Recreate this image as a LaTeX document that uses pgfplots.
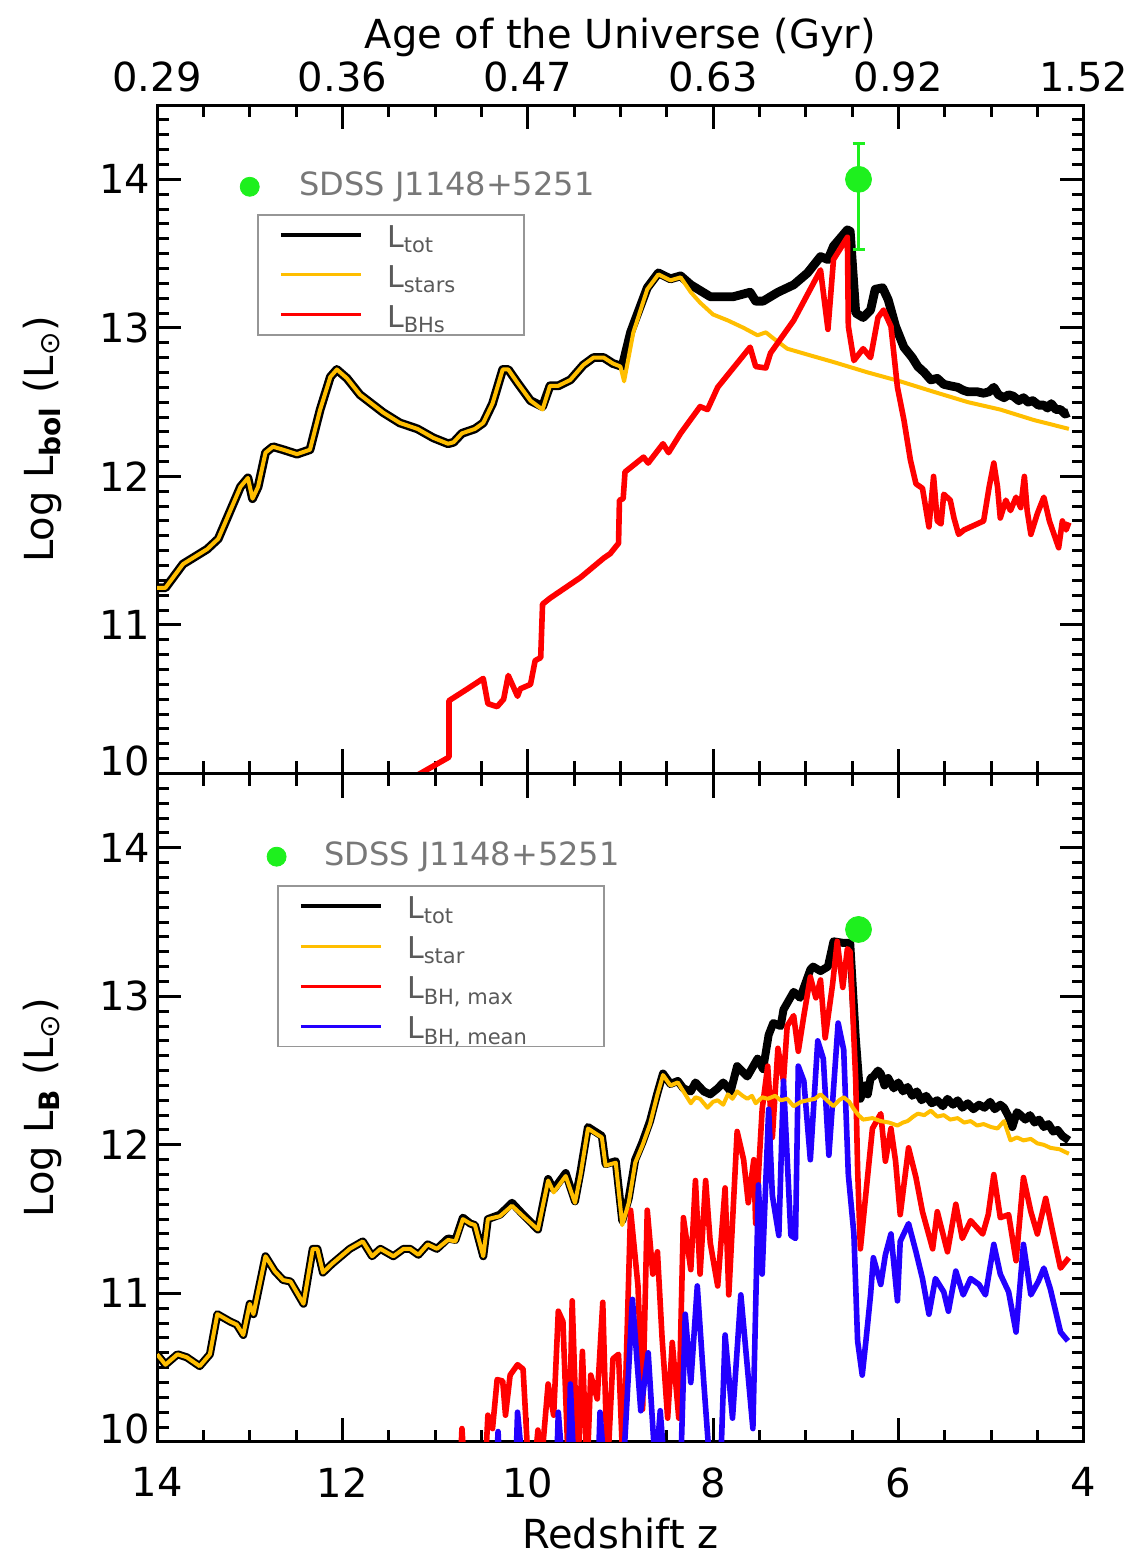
\documentclass[border=0pt]{standalone}
\usepackage{fontspec}
\setmainfont{DejaVu Sans}
\usepackage{pgfplots}
\pgfplotsset{compat=1.18}

\definecolor{myorange}{RGB}{255,190,0}
\definecolor{mygreen}{RGB}{30,240,30}
\definecolor{myblue}{RGB}{35,0,255}
\definecolor{legtext}{RGB}{90,90,90}
\definecolor{sdss}{RGB}{120,120,120}
\definecolor{legframe}{RGB}{150,150,150}

\newcommand\legstrut{\rule[-3pt]{0pt}{17pt}}

\pgfplotsset{
  myaxis/.style={
    scale only axis, width=463pt, height=334pt,
    x dir=reverse, xmin=4, xmax=14, ymin=10, ymax=14.5,
    xtick={4,6,...,14}, minor xtick={4,4.5,...,14},
    ytick={11,12,13,14}, minor ytick={10,10.1,...,14.5},
    extra y ticks={10}, extra y tick style={yticklabel style={yshift=6.5pt}},
    axis line style={line width=1.5pt},
    tick style={black, line width=1.5pt},
    major tick length=12pt, minor tick length=6pt,
    tick align=inside,
    /pgf/number format/assume math mode=true,
    tick label style={font=\fontsize{20}{24}\selectfont},
    label style={font=\fontsize{20}{24}\selectfont},
    ylabel style={at={(axis description cs:-0.1123,0.5)}, anchor=base},
    legend cell align=left,
    legend image code/.code={\draw[#1] (0pt,0pt) -- (40pt,0pt);},
  }
}

\begin{document}
\begin{tikzpicture}
% ---------------- top panel ----------------
\begin{axis}[myaxis, name=top,
  xticklabel pos=upper,
  xticklabels={1.52,0.92,0.63,0.47,0.36,0.29},
  xticklabel style={yshift=3pt},
  xlabel={Age of the Universe (Gyr)},
  xlabel style={at={(axis description cs:0.5,1.0853)}, anchor=base},
  ylabel={Log L\textsubscript{\textbf{bol}} (L\textsubscript{⊙})},
  legend style={at={(0.108,0.837)}, anchor=north west, draw=legframe, line width=0.8pt,
    inner xsep=10.5pt, inner ysep=0pt, column sep=12pt, row sep=0pt,
    nodes={inner sep=0pt, minimum height=20pt, text=legtext, font=\fontsize{15}{18}\selectfont}},
]
\addlegendimage{black, line width=2pt}
\addlegendentry{\makebox[58pt][l]{\legstrut L\textsubscript{tot}}}
\addlegendimage{myorange, line width=1.5pt}
\addlegendentry{\makebox[58pt][l]{\legstrut L\textsubscript{stars}}}
\addlegendimage{red, line width=1.5pt}
\addlegendentry{\makebox[58pt][l]{\legstrut L\textsubscript{BHs}}}

% L_tot
\addplot[black, line width=4.4pt, line join=round, forget plot] coordinates {
(14.00,11.25) (13.91,11.25) (13.72,11.41) (13.46,11.51) (13.34,11.58) (13.10,11.93) (13.02,11.99) (12.97,11.85) (12.91,11.93) (12.83,12.16) (12.75,12.20) (12.64,12.18) (12.49,12.15) (12.35,12.18) (12.24,12.45) (12.13,12.67) (12.06,12.72) (11.95,12.66) (11.81,12.55) (11.56,12.43) (11.38,12.36) (11.19,12.32) (11.02,12.26) (10.86,12.22) (10.80,12.23) (10.71,12.29) (10.57,12.32) (10.48,12.36) (10.38,12.49) (10.27,12.72) (10.21,12.72) (10.11,12.63) (9.97,12.51) (9.84,12.47) (9.76,12.61) (9.67,12.61) (9.54,12.65) (9.40,12.75) (9.29,12.80) (9.18,12.80) (9.08,12.76) (8.98,12.74) (8.89,12.97) (8.71,13.27) (8.59,13.37) (8.46,13.33) (8.35,13.35) (8.24,13.29) (8.03,13.21) (7.78,13.21) (7.60,13.24) (7.54,13.18) (7.46,13.18) (7.30,13.24) (7.13,13.29) (6.98,13.37) (6.84,13.48) (6.76,13.46) (6.70,13.55) (6.55,13.66) (6.52,13.65) (6.46,13.10) (6.38,13.07) (6.30,13.12) (6.25,13.26) (6.17,13.27) (6.11,13.19) (6.03,13.01) (5.94,12.87) (5.85,12.80) (5.79,12.74) (5.72,12.70) (5.65,12.65) (5.58,12.66) (5.51,12.62) (5.44,12.61) (5.36,12.60) (5.30,12.58) (5.25,12.57) (5.15,12.57) (5.08,12.56) (5.02,12.57) (4.97,12.60) (4.92,12.55) (4.86,12.53) (4.81,12.55) (4.76,12.54) (4.70,12.51) (4.65,12.53) (4.60,12.50) (4.55,12.51) (4.49,12.48) (4.43,12.48) (4.39,12.46) (4.35,12.49) (4.30,12.45) (4.25,12.45) (4.20,12.42) (4.16,12.43)
};
% L_stars
\addplot[myorange, line width=2pt, line join=round, forget plot] coordinates {
(14.00,11.25) (13.91,11.25) (13.72,11.41) (13.46,11.51) (13.34,11.58) (13.10,11.93) (13.02,11.99) (12.97,11.85) (12.91,11.93) (12.83,12.16) (12.75,12.20) (12.64,12.18) (12.49,12.15) (12.35,12.18) (12.24,12.45) (12.13,12.67) (12.06,12.72) (11.95,12.66) (11.81,12.55) (11.56,12.43) (11.38,12.36) (11.19,12.32) (11.02,12.26) (10.86,12.22) (10.80,12.23) (10.71,12.29) (10.57,12.32) (10.48,12.36) (10.38,12.49) (10.27,12.72) (10.21,12.72) (10.11,12.63) (9.97,12.51) (9.84,12.45) (9.76,12.61) (9.67,12.61) (9.54,12.65) (9.40,12.75) (9.29,12.80) (9.18,12.80) (9.08,12.76) (9.00,12.74) (8.96,12.64) (8.86,12.97) (8.71,13.26) (8.59,13.36) (8.46,13.32) (8.35,13.34) (8.24,13.24) (8.14,13.17) (8.00,13.09) (7.84,13.05) (7.67,13.00) (7.52,12.95) (7.43,12.97) (7.35,12.93) (7.20,12.86) (6.98,12.82) (6.70,12.77) (6.33,12.70) (5.98,12.64) (5.62,12.57) (5.25,12.50) (4.90,12.45) (4.54,12.38) (4.16,12.32)
};
% L_BHs
\addplot[red, line width=2.8pt, line join=round, forget plot] coordinates {
(11.30,9.95) (10.85,10.11) (10.85,10.49) (10.65,10.57) (10.48,10.64) (10.43,10.47) (10.33,10.45) (10.26,10.50) (10.21,10.66) (10.11,10.52) (10.08,10.57) (9.97,10.60) (9.92,10.76) (9.86,10.78) (9.84,11.14) (9.76,11.18) (9.43,11.32) (9.18,11.45) (9.11,11.48) (9.02,11.55) (9.01,11.84) (8.97,11.85) (8.95,12.03) (8.75,12.13) (8.70,12.09) (8.54,12.22) (8.48,12.16) (8.35,12.29) (8.14,12.47) (8.06,12.45) (7.95,12.60) (7.60,12.87) (7.54,12.74) (7.43,12.73) (7.38,12.83) (7.13,13.05) (6.84,13.39) (6.76,12.99) (6.70,13.46) (6.55,13.61) (6.54,13.01) (6.48,12.78) (6.38,12.86) (6.30,12.80) (6.22,13.07) (6.16,13.12) (6.08,13.01) (6.01,12.60) (5.94,12.38) (5.87,12.11) (5.81,11.95) (5.74,11.92) (5.67,11.66) (5.62,12.00) (5.58,11.70) (5.54,11.68) (5.51,11.88) (5.44,11.84) (5.40,11.72) (5.35,11.61) (5.29,11.64) (5.22,11.66) (5.15,11.68) (5.08,11.70) (5.02,11.93) (4.97,12.09) (4.93,11.93) (4.90,11.72) (4.84,11.84) (4.79,11.77) (4.73,11.86) (4.68,11.79) (4.64,12.00) (4.61,11.77) (4.57,11.61) (4.50,11.75) (4.43,11.86) (4.37,11.70) (4.32,11.61) (4.27,11.52) (4.23,11.70) (4.19,11.64) (4.16,11.69)
};
% SDSS legend marker and label
\addplot[only marks, mark=*, mark size=4.75pt, mark options={draw=mygreen, fill=mygreen}, forget plot] coordinates {(13.0,13.95)};
\node[anchor=west, text=sdss, font=\fontsize{16}{19}\selectfont] at (axis cs:12.54,13.95) {SDSS J1148+5251};
% data point
\addplot[only marks, mark=*, mark size=6.5pt, mark options={draw=mygreen, fill=mygreen}, forget plot,
  error bars/.cd, y dir=both, y explicit,
  error bar style={line width=1.5pt, mygreen},
  error mark options={rotate=90, mygreen, line width=1.5pt, mark size=3pt}]
  coordinates {(6.43,14.0) += (0,0.24) -= (0,0.47)};
\end{axis}

% ---------------- bottom panel ----------------
\begin{axis}[myaxis, name=bot, at={(top.south west)}, anchor=north west,
  xticklabel style={yshift=-9.3pt},
  xlabel={Redshift z},
  xlabel style={at={(axis description cs:0.5,-0.160)}, anchor=base},
  ylabel={Log L\textsubscript{\textbf{B}} (L\textsubscript{⊙})},
  legend style={at={(0.1296,0.8326)}, anchor=north west, draw=legframe, line width=0.8pt,
    inner xsep=10.5pt, inner ysep=0pt, column sep=12pt, row sep=0pt,
    nodes={inner sep=0pt, minimum height=20pt, text=legtext, font=\fontsize{15}{18}\selectfont}},
]
\addlegendimage{black, line width=2pt}
\addlegendentry{\makebox[88pt][l]{\legstrut L\textsubscript{tot}}}
\addlegendimage{myorange, line width=1.5pt}
\addlegendentry{\makebox[88pt][l]{\legstrut L\textsubscript{star}}}
\addlegendimage{red, line width=1.5pt}
\addlegendentry{\makebox[88pt][l]{\legstrut L\textsubscript{BH, max}}}
\addlegendimage{myblue, line width=1.5pt}
\addlegendentry{\makebox[88pt][l]{\legstrut L\textsubscript{BH, mean}}}

% L_tot
\addplot[black, line width=4pt, line join=round, forget plot] coordinates {
(14.00,10.59) (13.91,10.52) (13.78,10.59) (13.68,10.57) (13.54,10.51) (13.43,10.59) (13.35,10.86) (13.21,10.81) (13.14,10.79) (13.07,10.72) (13.00,10.93) (12.96,10.86) (12.83,11.25) (12.73,11.15) (12.64,11.09) (12.56,11.08) (12.42,10.93) (12.32,11.30) (12.27,11.30) (12.21,11.14) (12.11,11.20) (11.92,11.30) (11.78,11.35) (11.68,11.25) (11.59,11.30) (11.45,11.25) (11.34,11.30) (11.27,11.30) (11.18,11.26) (11.08,11.33) (10.98,11.30) (10.86,11.37) (10.78,11.36) (10.70,11.51) (10.62,11.47) (10.57,11.46) (10.48,11.25) (10.43,11.50) (10.30,11.53) (10.17,11.61) (10.05,11.53) (9.89,11.43) (9.78,11.77) (9.72,11.70) (9.59,11.81) (9.49,11.62) (9.43,11.82) (9.35,12.12) (9.20,12.06) (9.16,11.87) (9.05,11.89) (8.98,11.49) (8.91,11.64) (8.84,11.90) (8.76,12.02) (8.68,12.16) (8.60,12.35) (8.54,12.48) (8.46,12.41) (8.38,12.43) (8.32,12.38) (8.24,12.36) (8.19,12.42) (8.10,12.36) (8.03,12.34) (7.95,12.38) (7.89,12.42) (7.81,12.36) (7.74,12.53) (7.63,12.46) (7.52,12.58) (7.46,12.51) (7.40,12.74) (7.35,12.82) (7.27,12.80) (7.24,12.91) (7.13,13.03) (7.06,12.99) (6.95,13.18) (6.92,13.20) (6.84,13.17) (6.76,13.20) (6.70,13.37) (6.60,13.36) (6.52,13.36) (6.46,12.72) (6.41,12.31) (6.36,12.40) (6.33,12.34) (6.30,12.45) (6.27,12.46) (6.22,12.50) (6.19,12.48) (6.15,12.40) (6.11,12.45) (6.05,12.38) (6.00,12.42) (5.95,12.36) (5.90,12.39) (5.85,12.33) (5.80,12.36) (5.75,12.30) (5.70,12.33) (5.64,12.28) (5.58,12.30) (5.52,12.26) (5.47,12.31) (5.41,12.27) (5.36,12.30) (5.31,12.25) (5.25,12.28) (5.19,12.24) (5.13,12.27) (5.07,12.25) (5.01,12.29) (4.96,12.24) (4.90,12.27) (4.86,12.25) (4.81,12.19) (4.77,12.12) (4.72,12.22) (4.68,12.20) (4.63,12.17) (4.58,12.20) (4.53,12.15) (4.48,12.17) (4.43,12.12) (4.38,12.14) (4.33,12.09) (4.28,12.10) (4.23,12.06) (4.16,12.03)
};
% L_BH,max
\addplot[red, line width=2.8pt, line join=round, forget plot] coordinates {
(10.73,9.8) (10.71,10.09) (10.68,9.8) (10.46,9.8) (10.43,10.18) (10.38,10.09) (10.33,10.42) (10.27,10.41) (10.24,10.18) (10.19,10.45) (10.11,10.52) (10.05,10.49) (9.99,9.8) (9.93,9.8) (9.89,10.08) (9.86,9.8) (9.78,10.39) (9.72,10.18) (9.67,10.88) (9.62,10.81) (9.56,9.8) (9.52,10.95) (9.46,9.8) (9.41,10.61) (9.36,9.8) (9.32,10.45) (9.25,10.29) (9.19,10.94) (9.14,9.8) (9.08,10.56) (9.02,10.59) (8.97,9.8) (8.89,11.56) (8.81,11.05) (8.76,10.22) (8.71,11.56) (8.65,11.13) (8.60,11.28) (8.55,10.70) (8.49,10.16) (8.44,10.67) (8.37,10.16) (8.32,11.51) (8.24,11.16) (8.19,11.76) (8.14,11.13) (8.08,11.76) (8.03,11.34) (7.95,11.05) (7.87,11.71) (7.83,10.99) (7.74,12.09) (7.67,11.90) (7.62,11.61) (7.56,11.90) (7.54,11.47) (7.47,12.24) (7.41,12.53) (7.36,12.05) (7.30,12.65) (7.24,12.43) (7.20,12.80) (7.13,12.87) (7.08,12.63) (7.02,12.87) (6.95,13.13) (6.89,12.99) (6.84,13.11) (6.79,12.72) (6.71,13.08) (6.66,13.37) (6.60,13.06) (6.55,13.32) (6.52,13.30) (6.46,12.43) (6.44,11.84) (6.41,11.30) (6.33,11.80) (6.28,12.11) (6.19,12.21) (6.14,11.89) (6.08,12.11) (6.03,11.89) (5.98,11.53) (5.89,11.98) (5.81,11.78) (5.74,11.55) (5.63,11.30) (5.58,11.55) (5.47,11.28) (5.38,11.60) (5.31,11.37) (5.22,11.49) (5.09,11.40) (5.03,11.53) (4.97,11.80) (4.90,11.51) (4.81,11.53) (4.73,11.22) (4.65,11.78) (4.57,11.55) (4.50,11.40) (4.41,11.64) (4.33,11.40) (4.25,11.17) (4.16,11.24)
};
% L_BH,mean
\addplot[myblue, line width=2.8pt, line join=round, forget plot] coordinates {
(10.34,9.8) (10.32,10.07) (10.30,9.8) (10.13,9.8) (10.11,10.20) (10.05,9.8) (9.69,9.8) (9.67,10.20) (9.62,9.8) (9.56,9.8) (9.54,10.39) (9.50,9.8) (9.24,9.8) (9.22,10.20) (9.17,9.8) (8.97,9.8) (8.87,10.96) (8.78,10.21) (8.70,10.60) (8.62,9.8) (8.57,10.21) (8.52,9.8) (8.35,9.8) (8.30,10.86) (8.24,10.40) (8.17,11.05) (8.10,10.40) (8.03,9.8) (7.92,9.8) (7.87,10.72) (7.79,10.16) (7.70,10.99) (7.57,10.09) (7.51,11.73) (7.47,11.13) (7.40,12.24) (7.36,11.66) (7.29,11.39) (7.24,12.43) (7.16,11.39) (7.11,11.37) (7.08,12.53) (7.02,12.43) (6.95,11.90) (6.87,12.70) (6.81,12.58) (6.75,11.93) (6.65,12.82) (6.59,12.64) (6.54,11.80) (6.48,11.40) (6.44,10.68) (6.39,10.45) (6.35,10.68) (6.30,10.99) (6.27,11.24) (6.19,11.06) (6.14,11.26) (6.08,11.40) (6.01,10.95) (5.98,11.35) (5.89,11.47) (5.81,11.28) (5.74,11.10) (5.67,10.86) (5.60,11.10) (5.51,11.01) (5.46,10.88) (5.38,11.15) (5.30,10.99) (5.22,11.10) (5.13,11.06) (5.06,10.99) (4.97,11.33) (4.90,11.13) (4.81,11.01) (4.73,10.74) (4.65,11.33) (4.57,10.99) (4.49,11.08) (4.43,11.17) (4.36,11.03) (4.25,10.74) (4.17,10.68)
};
% L_star
\addplot[myorange, line width=2pt, line join=round, forget plot] coordinates {
(14.00,10.59) (13.91,10.52) (13.78,10.59) (13.68,10.57) (13.54,10.51) (13.43,10.59) (13.35,10.86) (13.21,10.81) (13.14,10.79) (13.07,10.72) (13.00,10.93) (12.96,10.86) (12.83,11.25) (12.73,11.15) (12.64,11.09) (12.56,11.08) (12.42,10.93) (12.32,11.30) (12.27,11.30) (12.21,11.14) (12.11,11.20) (11.92,11.30) (11.78,11.35) (11.68,11.25) (11.59,11.30) (11.45,11.25) (11.34,11.30) (11.27,11.30) (11.18,11.26) (11.08,11.33) (10.98,11.30) (10.86,11.36) (10.78,11.35) (10.70,11.50) (10.62,11.47) (10.57,11.46) (10.48,11.25) (10.43,11.50) (10.30,11.52) (10.17,11.59) (10.05,11.52) (9.89,11.43) (9.78,11.76) (9.72,11.68) (9.59,11.79) (9.49,11.61) (9.43,11.80) (9.35,12.11) (9.20,12.05) (9.16,11.86) (9.05,11.88) (8.98,11.46) (8.91,11.61) (8.84,11.88) (8.76,12.00) (8.68,12.14) (8.60,12.34) (8.54,12.47) (8.46,12.40) (8.38,12.42) (8.32,12.36) (8.24,12.28) (8.19,12.32) (8.14,12.31) (8.06,12.25) (8.00,12.29) (7.95,12.30) (7.89,12.27) (7.84,12.34) (7.79,12.31) (7.74,12.36) (7.68,12.33) (7.63,12.31) (7.58,12.33) (7.54,12.28) (7.47,12.32) (7.41,12.31) (7.33,12.33) (7.27,12.30) (7.20,12.31) (7.13,12.26) (7.05,12.29) (6.98,12.30) (6.90,12.31) (6.84,12.34) (6.77,12.30) (6.70,12.26) (6.64,12.30) (6.59,12.32) (6.53,12.29) (6.48,12.24) (6.43,12.20) (6.38,12.17) (6.28,12.18) (6.19,12.16) (6.10,12.15) (6.01,12.13) (5.95,12.15) (5.90,12.16) (5.84,12.19) (5.79,12.21) (5.72,12.20) (5.65,12.23) (5.58,12.19) (5.51,12.20) (5.44,12.17) (5.36,12.18) (5.29,12.15) (5.22,12.16) (5.15,12.13) (5.08,12.14) (5.00,12.12) (4.93,12.11) (4.86,12.16) (4.79,12.03) (4.72,12.05) (4.65,12.03) (4.57,12.04) (4.50,12.01) (4.43,12.00) (4.36,11.98) (4.26,11.97) (4.16,11.94)
};
% SDSS legend marker and label
\addplot[only marks, mark=*, mark size=4.75pt, mark options={draw=mygreen, fill=mygreen}, forget plot] coordinates {(12.71,13.94)};
\node[anchor=west, text=sdss, font=\fontsize{16}{19}\selectfont] at (axis cs:12.27,13.94) {SDSS J1148+5251};
% data point
\addplot[only marks, mark=*, mark size=6.5pt, mark options={draw=mygreen, fill=mygreen}, forget plot] coordinates {(6.43,13.45)};
\end{axis}

\pgfresetboundingbox
\path[use as bounding box] ([shift={(-78.5pt,52.5pt)}]top.north west) rectangle ([shift={(31.5pt,-58.5pt)}]bot.south east);
\end{tikzpicture}
\end{document}
